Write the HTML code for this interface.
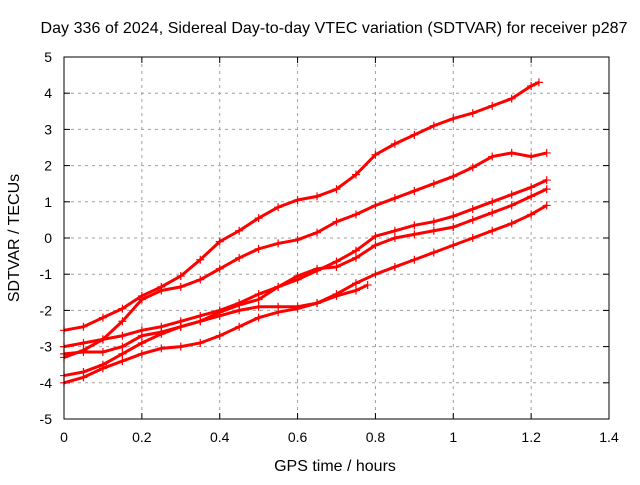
<!DOCTYPE html>
<html><head><meta charset="utf-8"><style>
body{margin:0;background:#fff;font-family:"Liberation Sans",sans-serif}
svg text{font-family:"Liberation Sans",sans-serif;font-size:14px;fill:#000}
svg text.big{font-size:16px}
</style></head><body>
<svg id="chart" width="640" height="480">
<text class="big" x="334" y="33" text-anchor="middle" textLength="587">Day 336 of 2024, Sidereal Day-to-day VTEC variation (SDTVAR) for receiver p287</text>
<text class="big" x="335" y="471" text-anchor="middle">GPS time / hours</text>
<text class="big" transform="translate(19,238) rotate(-90)" text-anchor="middle">SDTVAR / TECUs</text>
<g id="grid"></g><g id="series"></g>
<rect x="64" y="57" width="545" height="362" fill="none" stroke="#000" stroke-width="1"/>
</svg>
<script>
const xTicks=[0,0.2,0.4,0.6,0.8,1,1.2,1.4];
const xTickLabels=["0","0.2","0.4","0.6","0.8","1","1.2","1.4"];
const yTicks=[-5,-4,-3,-2,-1,0,1,2,3,4,5];
const sAx=[0,0.05,0.1,0.15,0.2,0.25,0.3,0.35,0.4,0.45,0.5,0.55,0.6,0.65,0.7,0.75,0.8,0.85,0.9,0.95,1.0,1.05,1.1,1.15,1.2,1.22];
const sAy=[-2.55,-2.45,-2.2,-1.95,-1.6,-1.35,-1.05,-0.6,-0.1,0.2,0.55,0.85,1.05,1.15,1.35,1.75,2.3,2.6,2.85,3.1,3.3,3.45,3.65,3.85,4.2,4.3];
const sBx=[0,0.05,0.1,0.15,0.2,0.25,0.3,0.35,0.4,0.45,0.5,0.55,0.6,0.65,0.7,0.75,0.8,0.85,0.9,0.95,1.0,1.05,1.1,1.15,1.2,1.24];
const sBy=[-3.3,-3.1,-2.8,-2.3,-1.7,-1.45,-1.35,-1.15,-0.85,-0.55,-0.3,-0.15,-0.05,0.15,0.45,0.65,0.9,1.1,1.3,1.5,1.7,1.95,2.25,2.35,2.25,2.35];
const sCx=[0,0.05,0.1,0.15,0.2,0.25,0.3,0.35,0.4,0.45,0.5,0.55,0.6,0.65,0.7,0.75,0.8,0.85,0.9,0.95,1.0,1.05,1.1,1.15,1.2,1.24];
const sCy=[-3.0,-2.9,-2.8,-2.7,-2.55,-2.45,-2.3,-2.15,-2.0,-1.8,-1.55,-1.35,-1.15,-0.9,-0.65,-0.35,0.05,0.2,0.35,0.45,0.6,0.8,1.0,1.2,1.4,1.6];
const sDx=[0,0.05,0.1,0.15,0.2,0.25,0.3,0.35,0.4,0.45,0.5,0.55,0.6,0.65,0.7,0.75,0.8,0.85,0.9,0.95,1.0,1.05,1.1,1.15,1.2,1.24];
const sDy=[-3.2,-3.15,-3.15,-3.0,-2.7,-2.6,-2.45,-2.3,-2.05,-1.85,-1.7,-1.35,-1.05,-0.85,-0.8,-0.55,-0.2,0.0,0.1,0.2,0.3,0.5,0.7,0.9,1.15,1.35];
const sEx=[0,0.05,0.1,0.15,0.2,0.25,0.3,0.35,0.4,0.45,0.5,0.55,0.6,0.65,0.7,0.75,0.8,0.85,0.9,0.95,1.0,1.05,1.1,1.15,1.2,1.24];
const sEy=[-3.8,-3.7,-3.5,-3.2,-2.9,-2.65,-2.45,-2.3,-2.15,-2.0,-1.9,-1.9,-1.9,-1.8,-1.55,-1.25,-1.0,-0.8,-0.6,-0.4,-0.2,0.0,0.2,0.4,0.65,0.9];
const sFx=[0,0.05,0.1,0.15,0.2,0.25,0.3,0.35,0.4,0.45,0.5,0.55,0.6,0.65,0.7,0.75,0.78];
const sFy=[-4.0,-3.85,-3.6,-3.4,-3.2,-3.05,-3.0,-2.9,-2.7,-2.45,-2.2,-2.05,-1.95,-1.8,-1.6,-1.45,-1.3];
const seriesX=[sAx,sBx,sCx,sDx,sEx,sFx], seriesY=[sAy,sBy,sCy,sDy,sEy,sFy];
const X=v=>64+v/1.4*545, Y=v=>238-v*36.2;
const NS="http://www.w3.org/2000/svg";
const grid=document.getElementById('grid'), ser=document.getElementById('series');
function mk(t,a,p){const e=document.createElementNS(NS,t);for(const k in a)e.setAttribute(k,a[k]);p.appendChild(e);return e;}
xTicks.forEach((t,i)=>{
 if(i>0&&i<xTicks.length-1){const g=mk('line',{x1:X(t),x2:X(t),y1:57,y2:419,stroke:'#a0a0a0','stroke-dasharray':'3,4'},grid);
 
 }
 mk('line',{x1:X(t),x2:X(t),y1:419,y2:413,stroke:'#000'},grid);
 mk('line',{x1:X(t),x2:X(t),y1:57,y2:63,stroke:'#000'},grid);
 const l=mk('text',{x:X(t),y:442,'text-anchor':'middle'},grid);l.textContent=xTickLabels[i];
 
 
});
yTicks.forEach((t,i)=>{
 if(i>0&&i<yTicks.length-1){const g=mk('line',{x1:64,x2:609,y1:Y(t),y2:Y(t),stroke:'#a0a0a0','stroke-dasharray':'3,4'},grid);
 
 }
 mk('line',{x1:64,x2:70,y1:Y(t),y2:Y(t),stroke:'#000'},grid);
 mk('line',{x1:603,x2:609,y1:Y(t),y2:Y(t),stroke:'#000'},grid);
 const l=mk('text',{x:52,y:Y(t)+5,'text-anchor':'end'},grid);l.textContent=String(t);
 
 
});
seriesX.forEach((xs,si)=>{
 const ys=seriesY[si];
 const g=mk('g',{},ser);
 
 
 mk('polyline',{points:xs.map((x,i)=>X(x)+','+Y(ys[i])).join(' '),fill:'none',stroke:'#ff0000','stroke-width':3},g);
 xs.forEach((x,i)=>{const cx=X(x),cy=Y(ys[i]);
  const p=mk('path',{d:`M${cx-4},${cy}H${cx+4}M${cx},${cy-4}V${cy+4}`,stroke:'#ff0000','stroke-width':1.2},g);
  
  });
});
</script>
</body></html>
